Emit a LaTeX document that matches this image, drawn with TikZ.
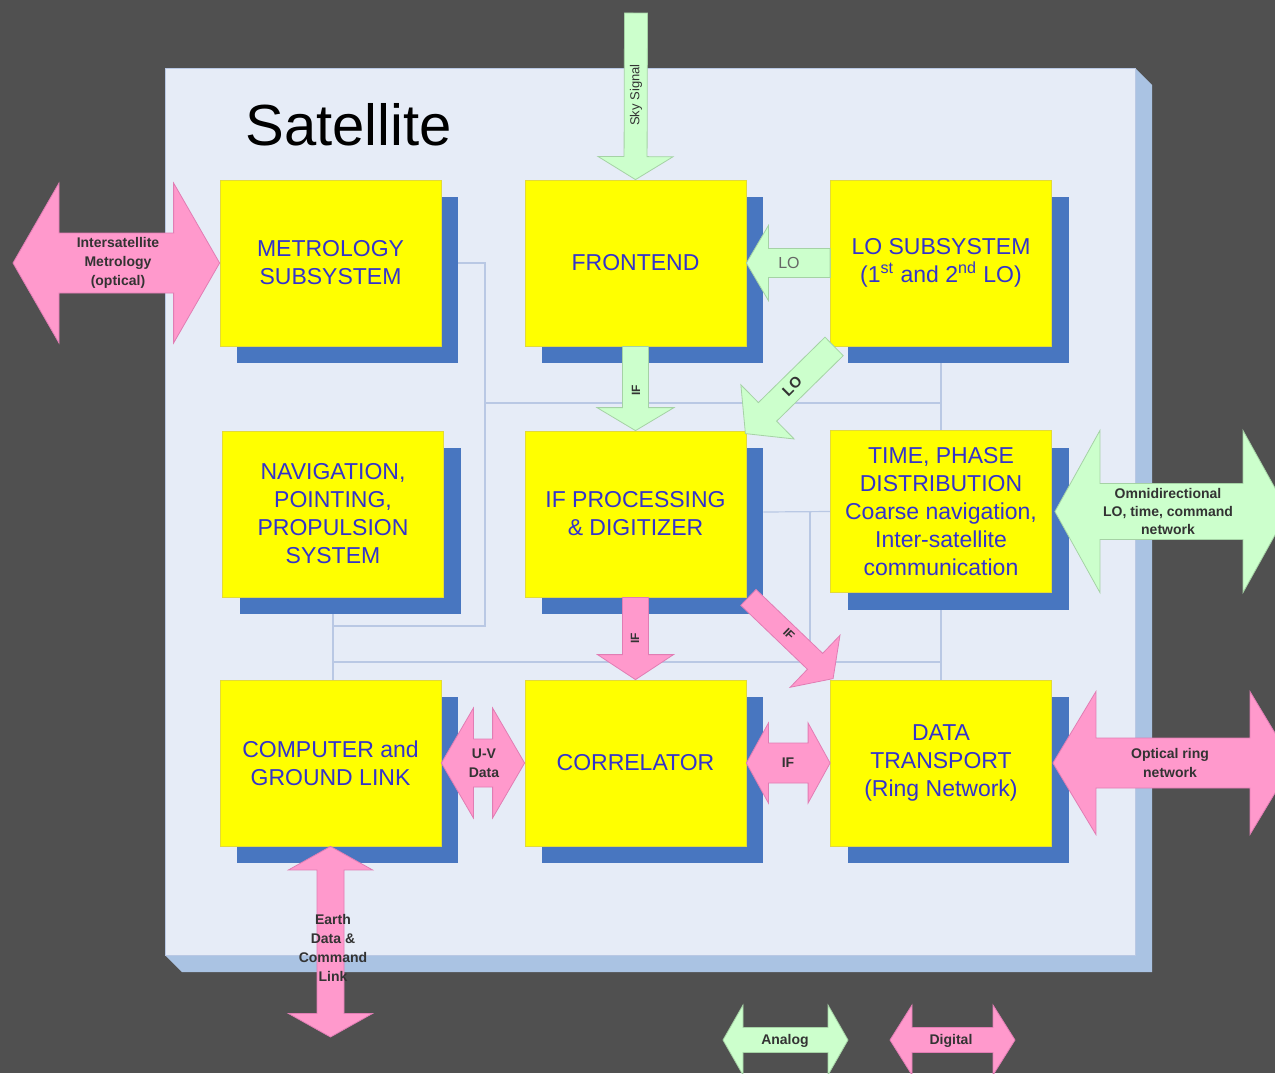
\documentclass[tikz,border=0pt]{standalone}
\usepackage{fontspec}
\setmainfont{Liberation Sans}
\usetikzlibrary{calc,shadows}

\definecolor{bgdark}{RGB}{80,80,80}
\definecolor{panel}{RGB}{230,236,247}
\definecolor{panelside}{RGB}{170,195,227}
\definecolor{boxyellow}{RGB}{255,255,0}
\definecolor{shadowblue}{RGB}{72,118,192}
\definecolor{boxtext}{RGB}{51,51,204}
\definecolor{agreen}{RGB}{204,255,204}
\definecolor{agreenline}{RGB}{165,210,165}
\definecolor{dpink}{RGB}{255,153,204}
\definecolor{dpinkline}{RGB}{225,125,180}
\definecolor{thinline}{RGB}{185,200,228}

\pgfdeclarelayer{bglayer}
\pgfdeclarelayer{linelayer}
\pgfsetlayers{bglayer,linelayer,main}

% single block arrow: style, from, to, shaft half width, head half width, head length
\newcommand{\singleblk}[6]{%
  \coordinate (tmpH) at ($(#3)!#6!(#2)$);
  \path[#1] ($(#2)!#4!90:(#3)$) -- ($(tmpH)!#4!90:(#3)$) -- ($(tmpH)!#5!90:(#3)$) -- (#3)
    -- ($(tmpH)!#5!-90:(#3)$) -- ($(tmpH)!#4!-90:(#3)$) -- ($(#2)!#4!-90:(#3)$) -- cycle;}
% double block arrow
\newcommand{\doubleblk}[6]{%
  \coordinate (tmpHa) at ($(#2)!#6!(#3)$);
  \coordinate (tmpHb) at ($(#3)!#6!(#2)$);
  \path[#1] (#2) -- ($(tmpHa)!#5!90:(#3)$) -- ($(tmpHa)!#4!90:(#3)$) -- ($(tmpHb)!#4!90:(#3)$)
    -- ($(tmpHb)!#5!90:(#3)$) -- (#3) -- ($(tmpHb)!#5!-90:(#3)$) -- ($(tmpHb)!#4!-90:(#3)$)
    -- ($(tmpHa)!#4!-90:(#3)$) -- ($(tmpHa)!#5!-90:(#3)$) -- cycle;}

\tikzset{
  blk/.style={draw=yellow!75!gray, line width=0.4pt, fill=boxyellow,
    minimum width=110.5pt, minimum height=83pt, inner sep=2pt,
    text=boxtext, align=center, font=\fontsize{11.5}{14}\selectfont,
    drop shadow={shadow xshift=8.5pt, shadow yshift=-8.5pt, fill=shadowblue, opacity=1, draw=none}},
  garrow/.style={fill=agreen, draw=agreenline, line width=0.4pt},
  parrow/.style={fill=dpink, draw=dpinkline, line width=0.4pt},
  thinln/.style={draw=thinline, line width=0.6pt},
  alabel/.style={font=\bfseries\fontsize{7}{9.5}\selectfont, text=black!80, align=center, inner sep=0pt},
}

\begin{document}
\begin{tikzpicture}[x=0.5pt,y=-0.5pt]
  \useasboundingbox (0,0) rectangle (1275,1073);
  \clip (0,0) rectangle (1275,1073);

  \begin{pgfonlayer}{bglayer}
  \fill[bgdark] (0,0) rectangle (1275,1073);
  % satellite panel with 3D edge
  \fill[panelside] (1135,68) -- (1152,85) -- (1152,972) -- (182,972) -- (165,955) -- (1135,955) -- cycle;
  \fill[panel, draw=thinline, line width=0.4pt] (165,68) rectangle (1135,955);
  \end{pgfonlayer}
  \node[anchor=base west, inner sep=0pt, font=\fontsize{29}{33}\selectfont, text=black] (title) at (245,145) {Satellite};

  % nodes
  \node[blk] (met)  at (330.5,263) {METROLOGY\\SUBSYSTEM};
  \node[blk] (fe)   at (635.5,263) {FRONTEND};
  \node[blk] (lo)   at (941,263)   {LO SUBSYSTEM\\(1\textsuperscript{st} and 2\textsuperscript{nd} LO)};
  \node[blk] (nav)  at (333,514)   {NAVIGATION,\\POINTING,\\PROPULSION\\SYSTEM};
  \node[blk] (ifp)  at (635.5,514) {IF PROCESSING\\\& DIGITIZER};
  \node[blk, minimum height=81pt] (tm) at (941,511.5) {TIME, PHASE\\DISTRIBUTION\\Coarse navigation,\\Inter-satellite\\communication};
  \node[blk] (comp) at (330.5,763) {COMPUTER and\\GROUND LINK};
  \node[blk] (corr) at (635.5,763) {CORRELATOR};
  \node[blk] (dt)   at (941,763)   {DATA\\TRANSPORT\\(Ring Network)};

  % thin connection lines, behind the boxes
  \begin{pgfonlayer}{linelayer}
  \draw[thinln] ($(met.east)+(17,0)$) -- (485,263) -- (485,626) -- (nav.south |- 0,626);
  \draw[thinln] (485,403) -- (lo.south |- 0,403);
  \draw[thinln] (lo.south) -- (tm.north);
  \draw[thinln] (nav.south) -- (nav.south |- comp.north);
  \draw[thinln] (nav.south |- 0,662) -- (tm.south |- 0,662);
  \draw[thinln] (tm.south) -- (dt.north);
  \draw[thinln] ($(ifp.east)+(17,-2)$) -- (tm.west);
  \draw[thinln] (810,512) -- (810 ,680);
  \end{pgfonlayer}

  % free ends
  \coordinate (skyA) at (636,13);
  \coordinate (isatA) at (13,263);
  \coordinate (omniB) at (1288,511.5);
  \coordinate (optB) at (1293,763);
  \coordinate (earthB) at (330.5,1037);
  \coordinate (anA) at (723,1040);
  \coordinate (anB) at (848,1040);
  \coordinate (diA) at (890,1040);
  \coordinate (diB) at (1015,1040);
  \coordinate (lodA) at ($(lo.south west)+(4,0)$);
  \coordinate (lodB) at ($(ifp.north east)+(-1,3)$);
  \coordinate (ifdA) at ($(ifp.south east)+(2,0)$);
  \coordinate (ifdB) at ($(dt.north west)+(3,-1)$);
  \coordinate (omniA) at ($(tm.east)+(3,0)$);
  \coordinate (optA) at ($(dt.east)+(1,0)$);

  % analog arrows
  \singleblk{garrow}{skyA}{fe.north}{5.75pt}{18.75pt}{11.5pt}
  \singleblk{garrow}{lo.west}{fe.east}{7.25pt}{18.75pt}{11pt}
  \singleblk{garrow}{lodA}{lodB}{6.5pt}{19pt}{15.5pt}
  \singleblk{garrow}{fe.south}{ifp.north}{6.5pt}{19.25pt}{11.5pt}
  \doubleblk{garrow}{omniA}{omniB}{14pt}{40.5pt}{22.5pt}
  % digital arrows
  \doubleblk{parrow}{isatA}{met.west}{15pt}{40pt}{23pt}
  \singleblk{parrow}{ifp.south}{corr.north}{6.5pt}{19pt}{12.5pt}
  \singleblk{parrow}{ifdA}{ifdB}{5.5pt}{18pt}{12.5pt}
  \doubleblk{parrow}{comp.east}{corr.west}{12pt}{27.5pt}{16pt}
  \doubleblk{parrow}{corr.east}{dt.west}{10pt}{20pt}{11pt}
  \doubleblk{parrow}{optA}{optB}{12.5pt}{35.75pt}{21.5pt}
  \doubleblk{parrow}{comp.south}{earthB}{6.75pt}{21pt}{11.75pt}
  % legend
  \doubleblk{garrow}{anA}{anB}{6.25pt}{17.5pt}{10pt}
  \doubleblk{parrow}{diA}{diB}{6.25pt}{17.5pt}{11pt}

  % arrow labels
  \node[inner sep=0pt, rotate=90, font=\fontsize{6.5}{8}\selectfont, text=black!80] (lsky) at (636,95) {Sky Signal};
  \node[inner sep=0pt, font=\fontsize{8}{9}\selectfont, text=black!60] (llo1) at (789,263) {LO};
  \node[alabel, rotate=45, font=\bfseries\fontsize{7.5}{8}\selectfont] (llo2) at (792,386) {LO};
  \node[alabel, rotate=90, font=\bfseries\fontsize{6}{7}\selectfont] (lif1) at (636,390) {IF};
  \node[alabel, rotate=90, font=\bfseries\fontsize{6}{7}\selectfont] (lif2) at (635,638) {IF};
  \node[alabel, rotate=-44, font=\bfseries\fontsize{6}{7}\selectfont] (lif3) at (789,634) {IF};
  \node[alabel] (lisat) at (118,263) {Intersatellite\\Metrology\\(optical)};
  \node[alabel] (luv) at (484,763) {U-V\\Data};
  \node[alabel] (lif4) at (788,763) {IF};
  \node[alabel, font=\bfseries\fontsize{7}{9}\selectfont] (lomni) at (1168,511) {Omnidirectional\\LO, time, command\\network};
  \node[alabel] (lopt) at (1170,763) {Optical ring\\network};
  \node[alabel] (learth) at (333,948) {Earth\\Data \&\\Command\\Link};
  \node[alabel] (lan) at (785,1041) {Analog};
  \node[alabel] (ldi) at (951,1041) {Digital};
\end{tikzpicture}
\end{document}
